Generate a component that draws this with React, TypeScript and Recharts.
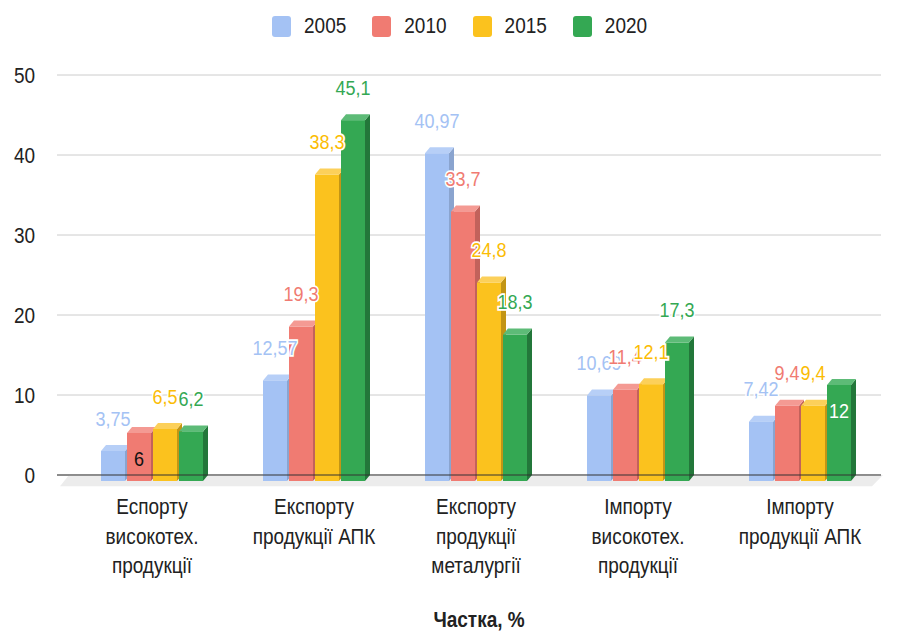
import React from "react";
import { BarChart, Bar, XAxis, YAxis, CartesianGrid, LabelList, ReferenceArea } from "recharts";

const categories = [
  "Еспорту\nвисокотех.\nпродукції",
  "Експорту\nпродукції АПК",
  "Експорту\nпродукції\nметалургії",
  "Імпорту\nвисокотех.\nпродукції",
  "Імпорту\nпродукції АПК",
];
const years = ["2005", "2010", "2015", "2020"];
const v2005 = [3.75, 12.57, 40.97, 10.69, 7.42];
const v2010 = [6, 19.3, 33.7, 11.4, 9.4];
const v2015 = [6.5, 38.3, 24.8, 12.1, 9.4];
const v2020 = [6.2, 45.1, 18.3, 17.3, 12];
const yTicks = [0, 10, 20, 30, 40, 50];
const axisTitle = "Частка, %";

// labels Google placed inside the bar (series -> category indexes)
const insideLabels: Record<string, number[]> = { "2010": [0], "2020": [4] };

const data = categories.map((name, i) => ({
  name,
  "2005": v2005[i],
  "2010": v2010[i],
  "2015": v2015[i],
  "2020": v2020[i],
}));

const colors: Record<string, { front: string; top: string; side: string; label: string; inside: string }> = {
  "2005": { front: "#a4c2f4", top: "#b7cff7", side: "#8aa4cf", label: "#a4c2f4", inside: "#222" },
  "2010": { front: "#f07b72", top: "#f49a93", side: "#c2625b", label: "#f07b72", inside: "#111" },
  "2015": { front: "#fbc21e", top: "#fcd05a", side: "#c29515", label: "#fbbc04", inside: "#111" },
  "2020": { front: "#34a853", top: "#5dbb77", side: "#23773a", label: "#34a853", inside: "#fff" },
};

const FONT = "'Liberation Sans', Arial, sans-serif";
const STRETCH = 1.17; // text in the source is a little taller than wide
const D = 6; // vertical depth
const DX = 5; // horizontal depth

// text drawn at (x, y) and stretched vertically around its own baseline
const SText = ({ x, y, children, ...rest }: any) => (
  <text transform={`translate(${x},${y}) scale(1,${STRETCH})`} x={0} y={0} fontFamily={FONT} {...rest}>
    {children}
  </text>
);

const make3D = (year: string) => (props: any) => {
  const { x, y, width: w, height: h } = props;
  if (x == null || h == null) return null;
  const c = colors[year];
  const base = y + h;
  return (
    <g>
      <polygon
        points={`${x + w},${y + D} ${x + w + DX},${y} ${x + w + DX},${base} ${x + w},${base + D}`}
        fill={c.side}
      />
      <polygon
        points={`${x},${y + D} ${x + DX},${y} ${x + w + DX},${y} ${x + w},${y + D}`}
        fill={c.top}
      />
      <rect x={x} y={y + D} width={w} height={h} fill={c.front} />
    </g>
  );
};

const makeLabel = (year: string) => (props: any) => {
  const { x, y, width, value, index } = props;
  if (x == null) return null;
  const inside = (insideLabels[year] || []).includes(index);
  const text = String(value).replace(".", ",");
  const c = colors[year];
  return (
    <SText
      x={x + width / 2}
      y={inside ? y + 31 : y - 27}
      textAnchor="middle"
      dominantBaseline="central"
      fontSize={18}
      fill={inside ? c.inside : c.label}
      stroke={inside ? "none" : "#fff"}
      strokeWidth={3}
      paintOrder="stroke"
    >
      {text}
    </SText>
  );
};

const YTick = (props: any) => {
  const { y, payload } = props;
  return (
    <SText x={35} y={y} textAnchor="end" dominantBaseline="central" fontSize={19} fill="#222">
      {payload.value}
    </SText>
  );
};

const XTick = (props: any) => {
  const { x, y, payload } = props;
  const lines = String(payload.value).split("\n");
  return (
    <g>
      {lines.map((line, i) => (
        <SText key={i} x={x} y={y + 31 + i * 29.5} textAnchor="middle" fontSize={19} fill="#222">
          {line}
        </SText>
      ))}
    </g>
  );
};

const Floor = (props: any) => {
  const { x, y, width, height } = props;
  if (x == null) return null;
  const slant = 9;
  return (
    <polygon
      points={`${x - 2},${y} ${x + width + 2},${y} ${x + width - slant},${y + height} ${x - slant - 2},${y + height}`}
      fill="#ececec"
    />
  );
};

const App = () => {
  return (
    <div style={{ position: "absolute", left: 0, top: 0, width: 901, height: 633, background: "#fff", fontFamily: FONT }}>
      <div style={{ position: "absolute", top: 15, left: 272, display: "flex", alignItems: "center", gap: 26 }}>
        {years.map((yr) => (
          <div key={yr} style={{ display: "flex", alignItems: "center", gap: 13 }}>
            <div style={{ width: 19, height: 21, borderRadius: 3, background: colors[yr].front }} />
            <span style={{ fontSize: 19, color: "#222", display: "inline-block", transform: `scaleY(${STRETCH})` }}>{yr}</span>
          </div>
        ))}
      </div>
      <BarChart
        width={901}
        height={633}
        data={data}
        margin={{ top: 75, right: 20, bottom: 28, left: 0 }}
        barSize={24}
        barGap={2}
      >
        <CartesianGrid vertical={false} stroke="#cccccc" />
        <ReferenceArea y1={0} y2={-1.4} ifOverflow="visible" shape={Floor} />
        <XAxis
          dataKey="name"
          interval={0}
          tick={XTick}
          tickLine={false}
          axisLine={{ stroke: "#333" }}
          height={130}
          padding={{ left: 14, right: 0 }}
          label={(p: any) => {
            const vb = p.viewBox;
            return (
              <SText
                x={vb.x + vb.width / 2 + 10}
                y={vb.y + vb.height + 22}
                textAnchor="middle"
                fontSize={19}
                fontWeight="bold"
                fill="#222"
              >
                {axisTitle}
              </SText>
            );
          }}
        />
        <YAxis domain={[0, 50]} ticks={yTicks} width={57} axisLine={false} tickLine={false} tick={YTick} />
        {years.map((yr) => (
          <Bar key={yr} dataKey={yr} shape={make3D(yr)} isAnimationActive={false}>
            <LabelList dataKey={yr} content={makeLabel(yr)} />
          </Bar>
        ))}
      </BarChart>
    </div>
  );
};

export default App;
